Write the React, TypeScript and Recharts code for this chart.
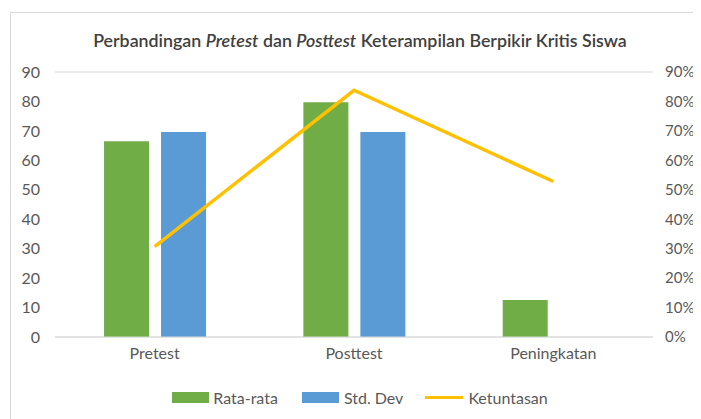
import React from "react";
import {
  ComposedChart,
  Bar,
  Line,
  XAxis,
  YAxis,
  CartesianGrid,
  Legend,
} from "recharts";

const categories = ["Pretest", "Posttest", "Peningkatan"];
const rataRata = [66.5, 79.7, 12.6];
const stdDev: (number | null)[] = [69.6, 69.6, null];
const ketuntasan = [30.7, 83.8, 52.8];
const leftTicks = [0, 10, 20, 30, 40, 50, 60, 70, 80, 90];
const rightTicks = [0, 10, 20, 30, 40, 50, 60, 70, 80, 90];

const data = categories.map((c, i) => ({
  name: c,
  rata: rataRata[i],
  std: stdDev[i],
  ket: ketuntasan[i],
}));

const FONT = "Lato, 'Open Sans', sans-serif";
const TEXT = "#595959";

const renderLegend = () => (
  <div
    style={{
      display: "flex",
      justifyContent: "center",
      alignItems: "center",
      fontFamily: FONT,
      fontSize: 16,
      color: TEXT,
      marginLeft: 8,
    }}
  >
    <span style={{ display: "flex", alignItems: "center", marginRight: 24 }}>
      <span style={{ width: 37, height: 11, background: "#70AD47", marginRight: 4 }} />
      Rata-rata
    </span>
    <span style={{ display: "flex", alignItems: "center", marginRight: 22 }}>
      <span style={{ width: 37, height: 11, background: "#5B9BD5", marginRight: 5 }} />
      Std. Dev
    </span>
    <span style={{ display: "flex", alignItems: "center" }}>
      <span style={{ width: 38, height: 3, background: "#FFC000", marginRight: 5 }} />
      Ketuntasan
    </span>
  </div>
);

export default function App() {
  return (
    <div style={{ position: "relative", width: 693, height: 411 }}>
      <div
        style={{
          position: "absolute",
          left: 2,
          top: 4,
          width: 691,
          height: 407,
          borderTop: "1px solid #D9D9D9",
          borderLeft: "1px solid #D9D9D9",
          background: "#fff",
        }}
      >
        <div
          style={{
            position: "absolute",
            top: 16,
            left: 4,
            width: 690,
            textAlign: "center",
            fontFamily: FONT,
            fontSize: 17.8,
            fontWeight: 600,
            color: "#404040",
          }}
        >
          Perbandingan <i>Pretest</i> dan <i>Posttest</i> Keterampilan Berpikir Kritis Siswa
        </div>
        <ComposedChart
          width={690}
          height={406}
          data={data}
          margin={{ top: 59, right: 10, left: 10, bottom: 7 }}
          barCategoryGap="24.6%"
          barGap={12}
        >
          <CartesianGrid vertical={false} stroke="#D9D9D9" strokeWidth={1} />
          <XAxis
            dataKey="name"
            axisLine={{ stroke: "#D9D9D9" }}
            tickLine={false}
            tickSize={0}
            tickMargin={11}
            height={56}
            tick={{ fill: TEXT, fontSize: 16, fontFamily: FONT }}
          />
          <YAxis
            yAxisId="left"
            domain={[0, 90]}
            ticks={leftTicks}
            interval={0}
            axisLine={false}
            tickLine={false}
            tickSize={0}
            tickMargin={15}
            width={34}
            tick={{ fill: TEXT, fontSize: 16, fontFamily: FONT }}
          />
          <YAxis
            yAxisId="right"
            orientation="right"
            domain={[0, 90]}
            ticks={rightTicks}
            interval={0}
            axisLine={false}
            tickLine={false}
            tickSize={0}
            tickMargin={12}
            width={38}
            tickFormatter={(v: number) => `${v}%`}
            tick={{ fill: TEXT, fontSize: 15, fontFamily: FONT, textAnchor: "start" }}
          />
          <Bar yAxisId="left" dataKey="rata" name="Rata-rata" fill="#70AD47" isAnimationActive={false} />
          <Bar yAxisId="left" dataKey="std" name="Std. Dev" fill="#5B9BD5" isAnimationActive={false} />
          <Line
            yAxisId="right"
            type="linear"
            dataKey="ket"
            name="Ketuntasan"
            stroke="#FFC000"
            strokeWidth={3.5}
            dot={false}
            activeDot={false}
            isAnimationActive={false}
          />
          <Legend
            content={renderLegend}
            verticalAlign="bottom"
            wrapperStyle={{ bottom: 12 }}
          />
        </ComposedChart>
      </div>
    </div>
  );
}
